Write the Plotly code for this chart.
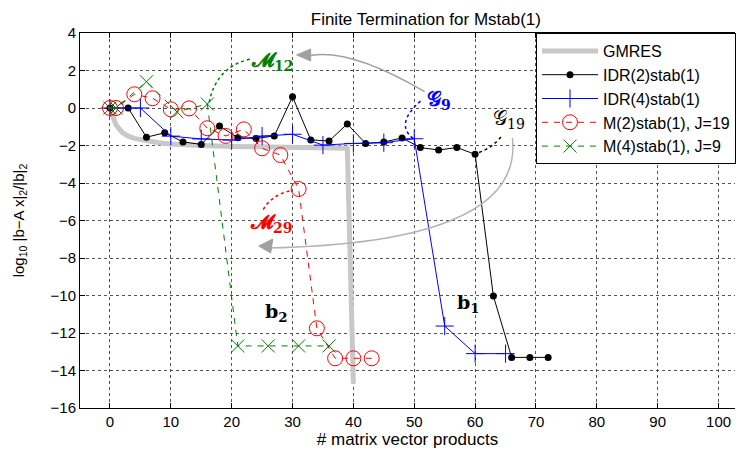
import plotly.graph_objects as go

# ---------------- data ----------------
gmres_x = [0, 1, 2, 3, 4, 6, 8, 10, 12, 15, 20, 25, 30, 35, 39, 40]
gmres_y = [0, -0.9, -1.3, -1.5, -1.62, -1.76, -1.85, -1.92, -1.96, -2.0, -2.05, -2.08, -2.1, -2.12, -2.15, -14.7]

idr2_x = [0, 3, 6, 9, 12, 15, 18, 21, 24, 27, 30, 33, 36, 39, 42, 45, 48, 51, 54, 57, 60, 63, 66, 69, 72]
idr2_y = [0, 0, -1.56, -1.32, -1.81, -1.94, -0.96, -1.58, -1.63, -1.49, 0.6, -1.7, -1.76, -0.85,
          -1.89, -1.81, -1.6, -2.11, -2.24, -2.11, -2.47, -10.03, -13.3, -13.3, -13.3]

idr4_x = [0, 5, 10, 15, 20, 25, 30, 35, 40, 45, 50, 55, 60, 65]
idr4_y = [0, 0, -1.5, -1.65, -1.71, -1.5, -1.4, -1.98, -1.89, -1.85, -1.64, -11.63, -13.1, -13.1]

m2_x = [0, 1, 4, 7, 10, 13, 16, 19, 22, 25, 28, 31, 34, 37, 40, 43]
m2_y = [0, 0, 0.73, 0.52, -0.07, -0.02, -1.08, -1.49, -1.14, -2.15, -2.51, -4.32, -11.75, -13.35, -13.35, -13.35]

m4_x = [0, 1, 6, 11, 16, 21, 26, 31, 36]
m4_y = [0, 0, 1.4, -0.2, 0.21, -12.69, -12.69, -12.69, -12.69]

x_ticks = list(range(0, 101, 10))
y_ticks = list(range(-16, 5, 2))

FONT = "Liberation Sans, Arial, sans-serif"
MFONT = "DejaVu Serif, serif"

fig = go.Figure()
fig.add_trace(go.Scatter(x=gmres_x, y=gmres_y, mode="lines", name="GMRES",
                         line=dict(color="#c8c8c8", width=5)))
fig.add_trace(go.Scatter(x=idr2_x, y=idr2_y, mode="lines+markers", name="IDR(2)stab(1)",
                         line=dict(color="black", width=1),
                         marker=dict(symbol="circle", size=7, color="black")))
fig.add_trace(go.Scatter(x=idr4_x, y=idr4_y, mode="lines+markers", name="IDR(4)stab(1)",
                         line=dict(color="blue", width=1),
                         marker=dict(symbol="cross-thin", size=13, line=dict(color="blue", width=1))))
fig.add_trace(go.Scatter(x=m2_x, y=m2_y, mode="lines+markers", name="M(2)stab(1), J=19",
                         line=dict(color="red", width=1, dash="6px,6px"),
                         marker=dict(symbol="circle-open", size=15, color="red", line=dict(width=1))))
fig.add_trace(go.Scatter(x=m4_x, y=m4_y, mode="lines+markers", name="M(4)stab(1), J=9",
                         line=dict(color="#008000", width=1, dash="6px,6px"),
                         marker=dict(symbol="x-thin", size=13, line=dict(color="#008000", width=1))))

shapes = []
# dotted connectors
shapes.append(dict(type="path", xref="x", yref="y", path="M 16.3,0.3 Q 17.5,2.2 23,2.6",
                   line=dict(color="#008000", width=1.5, dash="dot")))
shapes.append(dict(type="path", xref="x", yref="y", path="M 49.8,-1.62 Q 46.75,-0.85 51.1,0.39",
                   line=dict(color="blue", width=1.5, dash="dot")))
shapes.append(dict(type="path", xref="x", yref="y", path="M 59.7,-2.45 Q 62.2,-2.31 64.3,-1.53",
                   line=dict(color="black", width=1.5, dash="dot")))
shapes.append(dict(type="path", xref="x", yref="y", path="M 29.5,-4.43 Q 26.5,-4.66 25.15,-5.44",
                   line=dict(color="red", width=1.5, dash="dot")))
# gray arrows
shapes.append(dict(type="path", xref="x", yref="y", path="M 51.7,0.87 Q 39.6,3.17 33.0,2.8",
                   line=dict(color="#a0a0a0", width=1.5)))
shapes.append(dict(type="path", xref="x", yref="y", path="M 30.68,2.83 L 32.98,3.15 L 32.98,2.51 Z",
                   line=dict(color="#a0a0a0", width=1), fillcolor="#a0a0a0"))
shapes.append(dict(type="path", xref="x", yref="y",
                   path="M 66.12,-1.6 C 67.6,-5.71 50.86,-7.31 25.92,-7.47",
                   line=dict(color="#b4b4b4", width=1.5)))
shapes.append(dict(type="path", xref="x", yref="y", path="M 24.45,-7.36 L 26.74,-6.99 L 26.42,-7.73 Z",
                   line=dict(color="#a0a0a0", width=1), fillcolor="#a0a0a0"))

annotations = [
    dict(x=26.6, y=2.5, text="<b>𝓜<sub>12</sub></b>", font=dict(color="#008000", size=20, family=MFONT)),
    dict(x=54.0, y=0.43, text="<b>𝒢<sub>9</sub></b>", font=dict(color="blue", size=20, family=MFONT)),
    dict(x=65.5, y=-0.59, text="𝒢<sub>19</sub>", font=dict(color="black", size=20, family=MFONT)),
    dict(x=26.4, y=-6.13, text="<b>𝓜<sub>29</sub></b>", font=dict(color="red", size=20, family=MFONT)),
    dict(x=27.4, y=-10.88, text="<b>b<sub>2</sub></b>", font=dict(color="black", size=19, family=MFONT)),
    dict(x=58.9, y=-10.45, text="<b>b<sub>1</sub></b>", font=dict(color="black", size=19, family=MFONT)),
]
for a in annotations:
    a.update(xref="x", yref="y", showarrow=False)

axis_common = dict(showline=True, linecolor="black", linewidth=1,
                   ticks="inside", ticklen=5, tickcolor="black", automargin=False,
                   showgrid=True, gridcolor="#555555", gridwidth=1, griddash="dot",
                   zeroline=False, tickfont=dict(family=FONT, size=15, color="black"))

fig.update_layout(
    width=728, height=443,
    margin=dict(l=72, r=0, t=25, b=43),
    paper_bgcolor="white", plot_bgcolor="white",
    title=dict(text="Finite Termination for Mstab(1)", x=0.574, xanchor="center", y=0.975, yanchor="middle",
               font=dict(family=FONT, size=17, color="black")),
    xaxis=dict(range=[-4.92, 102.7], tickvals=x_ticks, mirror="ticks",
               title=dict(text="# matrix vector products", font=dict(family=FONT, size=17, color="black"), standoff=0),
               **axis_common),
    yaxis=dict(range=[-16, 4], tickvals=y_ticks, tickformat="d", mirror=False,
               title=dict(text="log<sub>10</sub> |b−A x|<sub>2</sub>/|b|<sub>2</sub>",
                          font=dict(family=FONT, size=15, color="black"), standoff=22),
               **axis_common),
    legend=dict(x=0.6966, y=1.0, xanchor="left", yanchor="top", bgcolor="white",
                bordercolor="black", borderwidth=1, font=dict(family=FONT, size=16, color="black"),
                tracegroupgap=0, itemwidth=56),
    shapes=shapes,
    annotations=annotations,
    showlegend=True,
)

fig.write_html("out.html")
